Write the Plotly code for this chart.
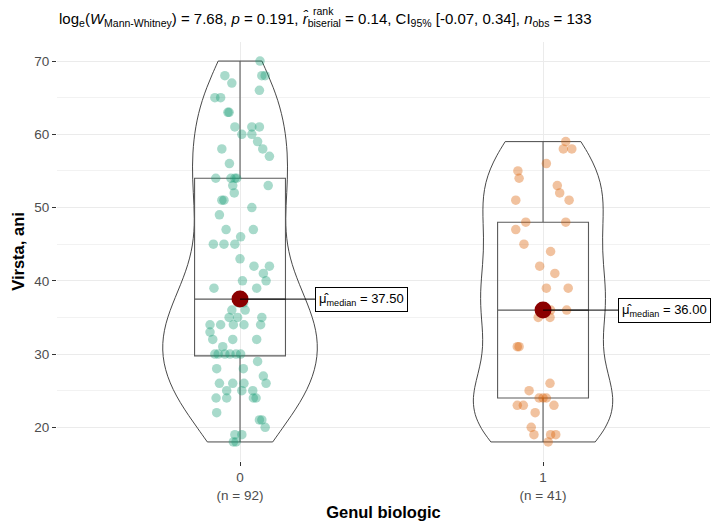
import numpy as np
import plotly.graph_objects as go

# ---------------- data ----------------
categories = ["0", "1"]
n_labels = ["(n = 92)", "(n = 41)"]

age_0 = [70, 68, 68, 68, 67, 66, 65, 65, 63, 63, 61, 61, 61, 60, 60, 59, 58, 58, 57, 56,
         54, 54, 54, 54, 53, 53, 52, 51, 51, 50, 49, 47, 47, 46, 45, 45, 45, 37, 43, 42,
         42, 41, 40, 40, 39, 39, 38, 37, 36, 36, 35, 35, 35, 34, 34, 34, 34, 34, 33, 32,
         32, 32, 31, 30, 30, 30, 30, 30, 30, 29, 28, 28, 27, 26, 26, 26, 26, 25, 25, 25,
         24, 24, 24, 24, 22, 21, 21, 20, 19, 19, 18, 18]
jitter_0 = [0.066, -0.050, 0.072, 0.083, -0.027, 0.064, -0.083, -0.064, -0.036, -0.040,
            -0.017, 0.039, 0.064, 0.006, 0.039, 0.058, -0.060, 0.075, 0.097, -0.035,
            -0.080, -0.030, -0.017, -0.011, 0.093, -0.024, -0.019, -0.060, -0.053, 0.039,
            -0.068, -0.046, 0.044, 0.002, -0.088, -0.053, -0.017, 0.012, 0.000, 0.046,
            0.097, 0.077, 0.086, 0.008, -0.086, 0.055, 0.000, -0.006, -0.027, 0.017,
            -0.036, -0.008, 0.072, -0.099, -0.064, -0.022, 0.013, 0.068, -0.099, -0.090,
            -0.024, 0.055, -0.057, -0.083, -0.072, -0.050, -0.033, -0.013, 0.002, 0.058,
            -0.077, 0.011, 0.077, -0.068, -0.024, 0.013, 0.086, -0.044, 0.006, 0.042,
            -0.079, -0.044, 0.044, 0.053, -0.077, 0.064, 0.072, 0.083, -0.017, 0.006,
            -0.022, -0.013]

age_1 = [59, 58, 58, 56, 55, 54, 53, 52, 51, 51, 48, 48, 47, 45, 44, 42, 41, 39, 39,
         36, 36, 36, 36, 35, 35, 31, 31, 26, 25, 24, 24, 24, 23, 23, 23, 22, 20, 19, 19, 19, 18]
jitter_1 = [0.075, 0.067, 0.095, 0.011, -0.083, -0.079, 0.047, 0.055, -0.090, 0.086,
            -0.057, 0.075, -0.090, -0.063, 0.025, -0.011, 0.039, 0.011, 0.083,
            0.078, 0.025, -0.008, 0.007, -0.016, 0.023, -0.085, -0.079, 0.023, -0.046,
            -0.013, 0.000, 0.011, -0.085, -0.065, 0.036, -0.026, -0.039, -0.030, 0.025,
            0.042, 0.017]

title_text = ("log<sub>e</sub>(<i>W</i><sub>Mann-Whitney</sub>) = 7.68, <i>p</i> = 0.191, "
              "<i>r̂</i><sub>biserial</sub> = 0.14, CI<sub>95%</sub> [-0.07, 0.34], "
              "<i>n</i><sub>obs</sub> = 133")
title_sup = "rank"

colors = ["#1B9E77", "#D95F02"]
groups = [age_0, age_1]
jitters = [jitter_0, jitter_1]
violin_widths = [0.51, 0.46]

W, H = 714, 522
ML, MR, MT, MB = 57, 4, 42, 58
FONT = "Liberation Sans, Arial, sans-serif"


def px_x(px):
    return (px - ML) / (W - ML - MR)


def px_y(py):
    return 1 - (py - MT) / (H - MT - MB)


def nrd0(v):
    v = np.asarray(v, float)
    q1, q3 = np.percentile(v, [25, 75])
    s = min(np.std(v, ddof=1), (q3 - q1) / 1.34)
    return 0.9 * s * len(v) ** (-0.2)


def box_stats(v):
    v = np.asarray(v, float)
    q1, med, q3 = np.percentile(v, [25, 50, 75])
    iqr = q3 - q1
    lo = v[v >= q1 - 1.5 * iqr].min()
    hi = v[v <= q3 + 1.5 * iqr].max()
    return q1, med, q3, lo, hi


fig = go.Figure()

for i, (vals, jit) in enumerate(zip(groups, jitters)):
    fig.add_trace(go.Scatter(
        x=[i + j for j in jit], y=vals, mode="markers",
        marker=dict(size=9.5, color=colors[i], opacity=0.38, line=dict(width=0)),
        showlegend=False, hoverinfo="y"))

for i, vals in enumerate(groups):
    q1, med, q3, lo, hi = box_stats(vals)
    fig.add_trace(go.Box(
        x=[i], q1=[q1], median=[med], q3=[q3], lowerfence=[lo], upperfence=[hi],
        width=0.30, whiskerwidth=0,
        fillcolor="rgba(0,0,0,0)", line=dict(color="#5a5a5a", width=1.1),
        showlegend=False))

for i, vals in enumerate(groups):
    fig.add_trace(go.Violin(
        x=[i] * len(vals), y=vals, width=violin_widths[i], side="both",
        points=False, spanmode="hard", bandwidth=nrd0(vals),
        fillcolor="rgba(0,0,0,0)", line=dict(color="#333333", width=0.9),
        box_visible=False, meanline_visible=False, showlegend=False, scalemode="width"))

medians = [float(np.median(v)) for v in groups]
fig.add_trace(go.Scatter(
    x=[0, 1], y=medians, mode="markers",
    marker=dict(size=17, color="#8B0000"), showlegend=False))

for i, m in enumerate(medians):
    fig.add_annotation(
        x=i, y=m, xref="x", yref="y",
        text="μ̂<sub>median</sub> = %.2f" % m,
        showarrow=True, arrowhead=0, arrowwidth=1, arrowcolor="black",
        ax=75, ay=0, xanchor="left", yanchor="middle",
        bordercolor="black", borderwidth=1, borderpad=3, bgcolor="white",
        font=dict(size=13, color="black", family=FONT))

# superscript stacked above the "biserial" subscript in the title
fig.add_annotation(
    x=px_x(311), y=px_y(11), xref="paper", yref="paper", text=title_sup,
    showarrow=False, xanchor="left", yanchor="middle",
    font=dict(size=10.5, color="black", family=FONT))

fig.update_layout(
    width=W, height=H,
    margin=dict(l=ML, r=MR, t=MT, b=MB),
    paper_bgcolor="white", plot_bgcolor="white",
    font=dict(family=FONT, size=13.5, color="#4D4D4D"),
    boxmode="overlay", violinmode="overlay",
    title=dict(text=title_text, x=59 / W, xref="container", xanchor="left",
               y=1 - 19 / H, yref="container", yanchor="middle",
               font=dict(size=15, color="black")),
    xaxis=dict(range=[-0.604, 1.551], tickmode="array", tickvals=[0, 1],
               ticktext=[f"{c}<br>{n}" for c, n in zip(categories, n_labels)],
               showgrid=True, gridcolor="#EBEBEB", gridwidth=1, zeroline=False,
               ticks="outside", ticklen=4, tickcolor="#333333", showline=False,
               title=dict(text="<b>Genul biologic</b>", font=dict(size=16.5, color="black"),
                          standoff=4)),
    yaxis=dict(range=[15.4, 72.6], tickvals=[20, 30, 40, 50, 60, 70],
               showgrid=True, gridcolor="#EBEBEB", gridwidth=1, zeroline=False,
               minor=dict(tickvals=[25, 35, 45, 55, 65], showgrid=True,
                          gridcolor="#F2F2F2", gridwidth=1),
               ticks="outside", ticklen=4, tickcolor="#333333", showline=False,
               title=dict(text="<b>Virsta, ani</b>", font=dict(size=16.5, color="black"),
                          standoff=5)),
)

fig.write_html("out.html")
